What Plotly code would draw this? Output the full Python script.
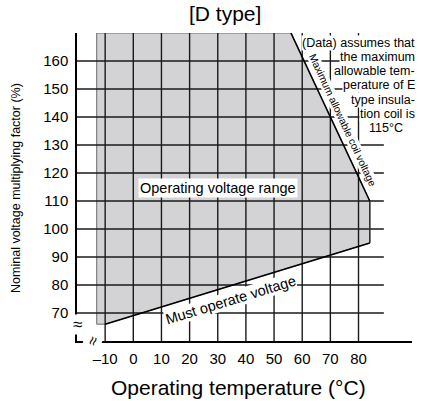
import plotly.graph_objects as go

# ---- data ----
temp_ticks = [-10, 0, 10, 20, 30, 40, 50, 60, 70, 80]
temp_labels = ["–10", "0", "10", "20", "30", "40", "50", "60", "70", "80"]
volt_ticks = [70, 80, 90, 100, 110, 120, 130, 140, 150, 160]
volt_labels = ["70", "80", "90", "100", "110", "120", "130", "140", "150", "160"]

# operating range polygon (temperature °C, voltage %)
range_temp = [-13, 56, 84, 84, -10, -13, -13]
range_volt = [170, 170, 110, 95, 66, 66, 170]
# maximum allowable coil voltage line
max_temp = [56, 84]
max_volt = [170, 110]
# right edge of range
edge_temp = [84, 84]
edge_volt = [110, 95]
# must operate voltage line
must_temp = [-10, 84]
must_volt = [66, 95]

note_lines = ["(Data) assumes that", "the maximum", "allowable tem-",
              "perature of E", "type insula-", "tion coil is"]
note_last = "115°C"

# ---- style constants ----
X_MIN, X_MAX = -20, 99
Y_MIN, Y_MAX = 60, 170
GRID_X_END = 89
FONT = "Liberation Sans, Arial, sans-serif"
GRID_COLOR = "#1a1a1a"

fig = go.Figure()

# shaded operating range
fig.add_trace(go.Scatter(x=range_temp, y=range_volt, mode="lines", fill="toself",
                         fillcolor="#d3d3d5", line=dict(color="#6a6a6a", width=1),
                         hoverinfo="skip", showlegend=False))

# grid lines
gx, gy = [], []
for v in volt_ticks:
    gx += [X_MIN, GRID_X_END, None]
    gy += [v, v, None]
for t in temp_ticks:
    gx += [t, t, None]
    gy += [Y_MIN, Y_MAX, None]
fig.add_trace(go.Scatter(x=gx, y=gy, mode="lines", line=dict(color=GRID_COLOR, width=1.4),
                         hoverinfo="skip", showlegend=False))

# boundary lines
fig.add_trace(go.Scatter(x=max_temp, y=max_volt, mode="lines",
                         line=dict(color="black", width=1.6), hoverinfo="skip", showlegend=False))
fig.add_trace(go.Scatter(x=edge_temp, y=edge_volt, mode="lines",
                         line=dict(color="#333333", width=1.6), hoverinfo="skip", showlegend=False))
fig.add_trace(go.Scatter(x=must_temp, y=must_volt, mode="lines",
                         line=dict(color="black", width=1.6), hoverinfo="skip", showlegend=False))

ann = []
# chart title
ann.append(dict(text="[D type]", xref="paper", yref="paper", x=0.443, y=1.062,
                showarrow=False, font=dict(family=FONT, size=21, color="black"),
                xanchor="center", yanchor="middle"))
# axis titles
ann.append(dict(text="Operating temperature (°C)", xref="paper", yref="paper", x=0.482, y=-0.152,
                showarrow=False, font=dict(family=FONT, size=21, color="black"),
                xanchor="center", yanchor="middle"))
ann.append(dict(text="Nominal voltage multiplying factor (%)", xref="paper", yref="paper",
                x=-0.18, y=0.496, textangle=-90, showarrow=False,
                font=dict(family=FONT, size=12.5, color="black"),
                xanchor="center", yanchor="middle"))
# in-plot labels
ann.append(dict(text="Operating voltage range", xref="x", yref="y", x=30.2, y=114.5,
                showarrow=False, bgcolor="white", borderpad=1,
                font=dict(family=FONT, size=14.5, color="black")))
ann.append(dict(text="Must operate voltage", xref="x", yref="y", x=34.6, y=74.6,
                textangle=-17, showarrow=False, bgcolor="white", borderpad=0,
                font=dict(family=FONT, size=14.5, color="black")))
ann.append(dict(text="Maximum allowable coil voltage", xref="x", yref="y", x=74.4, y=138.8,
                textangle=65, showarrow=False, bgcolor="white", borderpad=0,
                font=dict(family=FONT, size=10.3, color="black")))
# note lines
line_y = [42.5, 56.8, 71.1, 85.4, 99.7, 114.0]
for txt, py in zip(note_lines, line_y):
    ann.append(dict(text=txt, xref="paper", yref="paper", x=(416 - 77) / 335,
                    y=(340.7 - py) / 307.7, xanchor="right", yanchor="middle",
                    showarrow=False, bgcolor="white", borderpad=0,
                    font=dict(family=FONT, size=12.5, color="black")))
ann.append(dict(text=note_last, xref="paper", yref="paper", x=(386 - 77) / 335,
                y=(340.7 - 128.3) / 307.7, xanchor="center", yanchor="middle",
                showarrow=False, bgcolor="white", borderpad=0,
                font=dict(family=FONT, size=12.5, color="black")))
# axis break marks
ann.append(dict(text="≈", xref="paper", yref="paper", x=-0.014, y=0.02, showarrow=False,
                bgcolor="white", borderpad=0, font=dict(family=FONT, size=17, color="black")))
ann.append(dict(text="≈", xref="x", yref="y", x=-14.6, y=60, showarrow=False, textangle=-70,
                bgcolor="white", borderpad=0, font=dict(family=FONT, size=16, color="black")))

fig.update_layout(
    width=422, height=401,
    margin=dict(l=77, r=10, t=33, b=60, autoexpand=False),
    paper_bgcolor="white", plot_bgcolor="white",
    showlegend=False,
    annotations=ann,
    xaxis=dict(range=[X_MIN, X_MAX], showgrid=False, zeroline=False, showline=True,
               linecolor="black", linewidth=1.5, ticks="", tickvals=temp_ticks,
               ticktext=temp_labels, tickfont=dict(family=FONT, size=15, color="black"),
               ticklabelstandoff=3, fixedrange=True, automargin=False),
    yaxis=dict(range=[Y_MIN, Y_MAX], showgrid=False, zeroline=False, showline=True,
               linecolor="black", linewidth=1.5, ticks="", tickvals=volt_ticks,
               ticktext=volt_labels, tickfont=dict(family=FONT, size=15, color="black"),
               ticklabelstandoff=4, fixedrange=True, automargin=False),
)

fig.write_html("out.html", config={"displayModeBar": False},
               post_script="document.body.style.margin='0px';document.body.style.overflow='hidden';")
